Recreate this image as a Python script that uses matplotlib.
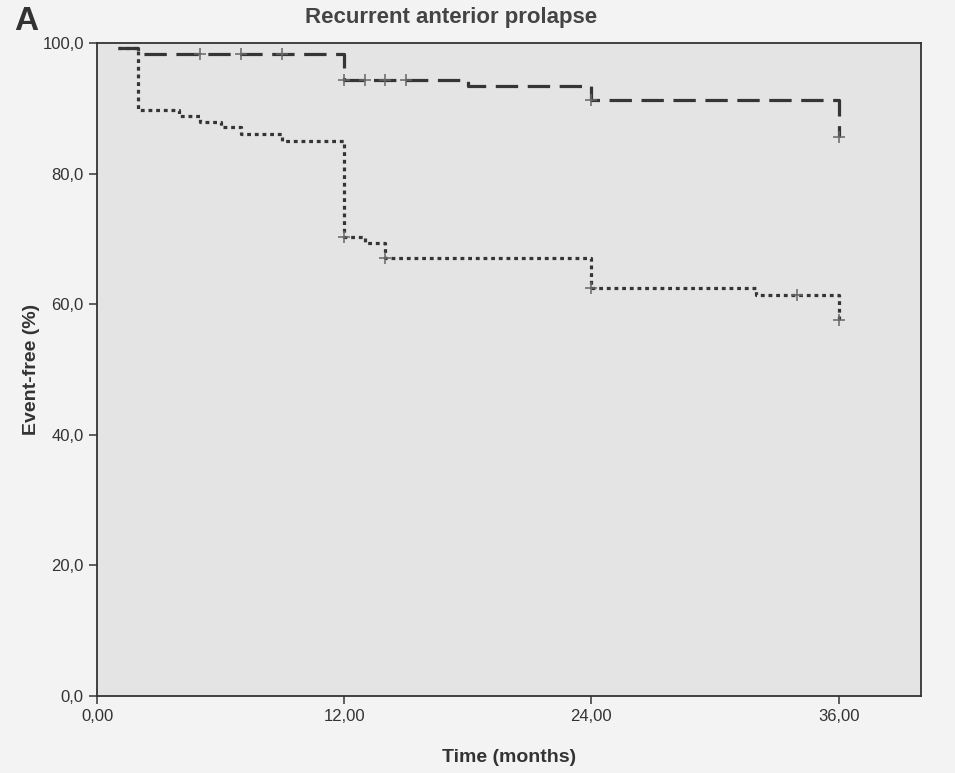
import numpy as np
import matplotlib
matplotlib.use('Agg')
import matplotlib.pyplot as plt

plt.rcParams['font.family'] = ['Liberation Sans', 'DejaVu Sans']

# Kaplan-Meier steps, dashed group
t_dash = [1, 2, 12, 18, 24, 36]
s_dash = [99.2, 98.3, 94.3, 93.4, 91.3, 85.6]
c_dash = [5, 7, 9, 12, 13, 14, 15, 24, 36]

# dotted group
t_dot = [1, 2, 4, 5, 6, 7, 9, 12, 13, 14, 24, 32, 36]
s_dot = [99.2, 89.7, 88.8, 87.9, 87.1, 86.1, 85.0, 70.3, 69.4, 67.1, 62.5, 61.4, 57.6]
c_dot = [12, 14, 24, 34, 36]

xticks = [0, 12, 24, 36]
xlabels = ['0,00', '12,00', '24,00', '36,00']
yticks = [0, 20, 40, 60, 80, 100]
ylabels = ['0,0', '20,0', '40,0', '60,0', '80,0', '100,0']


# value of the step curve at time t (after the drop)
def km_at(times, surv, t):
    i = np.searchsorted(times, t, side='right') - 1
    return surv[i]


fig = plt.figure(figsize=(9.55, 7.73), dpi=100)
fig.patch.set_facecolor('#f3f3f3')
ax = fig.add_axes([0.1016, 0.0996, 0.8628, 0.8448])
ax.set_facecolor('#e4e4e4')

ax.step(t_dash, s_dash, where='post', color='#353535', lw=2.3,
        linestyle=(0, (7, 3)))
ax.step(t_dot, s_dot, where='post', color='#353535', lw=2.3,
        linestyle=(0, (1.2, 1.2)))

ax.plot(c_dash, [km_at(t_dash, s_dash, t) for t in c_dash], '+',
        color='#666666', ms=9, mew=1.1)
ax.plot(c_dot, [km_at(t_dot, s_dot, t) for t in c_dot], '+',
        color='#666666', ms=9, mew=1.1)

ax.set_xlim(0, 40)
ax.set_ylim(0, 100)
ax.set_xticks(xticks)
ax.set_xticklabels(xlabels, fontsize=12, color='#333333')
ax.set_yticks(yticks)
ax.set_yticklabels(ylabels, fontsize=12, color='#333333')
ax.tick_params(direction='out', length=6, width=1.2, color='#444444')
for sp in ax.spines.values():
    sp.set_color('#333333')
    sp.set_linewidth(1.3)

ax.set_xlabel('Time (months)', fontsize=14, fontweight='bold', color='#333333',
              labelpad=18)
ax.set_ylabel('Event-free (%)', fontsize=14, fontweight='bold', color='#333333',
              labelpad=2)

fig.text(451 / 955, 1 - 17 / 773, 'Recurrent anterior prolapse', ha='center',
         va='center', fontsize=16, fontweight='bold', color='#444444')
fig.text(14 / 955, 1 - 21 / 773, 'A', ha='left', va='center', fontsize=24,
         fontweight='bold', color='#333333')

fig.savefig('out.png', dpi=100, facecolor=fig.get_facecolor())
